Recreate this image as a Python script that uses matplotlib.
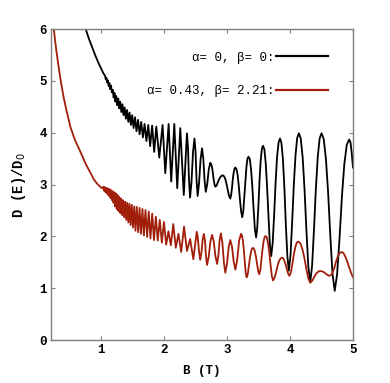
import matplotlib
matplotlib.use('Agg')
import matplotlib.pyplot as plt

# ---- alpha = 0, beta = 0 (black) ----
# smooth part at low field
b_black_low = [0.70, 0.75, 0.80, 0.85, 0.90, 0.96, 1.00, 1.03]
d_black_low = [6.15, 6.00, 5.82, 5.66, 5.50, 5.33, 5.23, 5.15]
# dense oscillations, peak / trough pairs
b_black_mid = [1.058, 1.069, 1.080, 1.092, 1.103, 1.115, 1.128, 1.140, 1.153, 1.166,
               1.180, 1.194, 1.208, 1.222, 1.237, 1.252, 1.268, 1.284, 1.300, 1.317,
               1.334, 1.352, 1.370, 1.389, 1.408, 1.428, 1.448, 1.469, 1.490, 1.512,
               1.535, 1.558, 1.583, 1.607, 1.633, 1.660, 1.687, 1.716, 1.745, 1.775,
               1.807, 1.839, 1.873, 1.920, 1.973, 2.016, 2.069, 2.110, 2.159, 2.206,
               2.254, 2.310, 2.360]
d_black_mid = [5.10, 5.03, 5.06, 4.97, 5.01, 4.90, 4.96, 4.84, 4.91, 4.78,
               4.83, 4.68, 4.77, 4.60, 4.71, 4.53, 4.66, 4.47, 4.60, 4.40,
               4.55, 4.34, 4.49, 4.27, 4.44, 4.21, 4.39, 4.15, 4.34, 4.09,
               4.30, 4.03, 4.25, 3.97, 4.21, 3.91, 4.17, 3.84, 4.15, 3.74,
               4.14, 3.63, 4.12, 3.52, 4.15, 3.22, 4.17, 3.06, 4.17, 2.93,
               4.09, 2.80, 3.99]
# resolved oscillations at high field
b_black_high = [2.377, 2.393, 2.410, 2.433, 2.457, 2.480, 2.497, 2.513, 2.530, 2.553,
                2.577, 2.600, 2.620, 2.640, 2.660, 2.683, 2.707, 2.730, 2.743, 2.757,
                2.770, 2.783, 2.797, 2.810, 2.830, 2.850, 2.870, 2.890, 2.910, 2.930,
                2.950, 2.970, 2.990, 3.010, 3.030, 3.050, 3.063, 3.077, 3.090, 3.103,
                3.117, 3.130, 3.148, 3.167, 3.185, 3.203, 3.222, 3.240, 3.257, 3.273,
                3.290, 3.307, 3.323, 3.340, 3.360, 3.380, 3.400, 3.420, 3.440, 3.460,
                3.478, 3.497, 3.515, 3.533, 3.552, 3.570, 3.592, 3.613, 3.635, 3.657,
                3.678, 3.700, 3.723, 3.747, 3.770, 3.793, 3.817, 3.840, 3.863, 3.887,
                3.910, 3.933, 3.957, 3.980, 4.007, 4.033, 4.060, 4.087, 4.113, 4.140,
                4.170, 4.200, 4.230, 4.260, 4.290, 4.320, 4.350, 4.380, 4.410, 4.440,
                4.470, 4.500, 4.535, 4.570, 4.605, 4.640, 4.675, 4.710, 4.748, 4.787,
                4.825, 4.863, 4.902, 4.940, 4.960, 4.980, 5.000]
d_black_high = [3.71, 3.09, 2.75, 3.06, 3.63, 3.89, 3.64, 3.09, 2.78, 3.03,
                3.49, 3.70, 3.51, 3.09, 2.86, 3.01, 3.29, 3.42, 3.40, 3.35,
                3.25, 3.12, 3.01, 2.96, 2.98, 3.04, 3.10, 3.14, 3.17, 3.18,
                3.16, 3.11, 3.01, 2.89, 2.78, 2.73, 2.80, 2.94, 3.11, 3.23,
                3.31, 3.33, 3.30, 3.18, 2.97, 2.71, 2.48, 2.37, 2.50, 2.78,
                3.10, 3.35, 3.50, 3.54, 3.49, 3.29, 2.96, 2.53, 2.15, 1.98,
                2.17, 2.60, 3.09, 3.47, 3.69, 3.75, 3.68, 3.41, 2.95, 2.37,
                1.85, 1.62, 1.87, 2.42, 3.04, 3.53, 3.81, 3.89, 3.80, 3.48,
                2.93, 2.23, 1.62, 1.34, 1.63, 2.27, 3.00, 3.57, 3.90, 3.99,
                3.89, 3.53, 2.91, 2.12, 1.43, 1.11, 1.43, 2.12, 2.91, 3.53,
                3.89, 3.99, 3.88, 3.50, 2.85, 2.01, 1.28, 0.95, 1.27, 1.97,
                2.78, 3.40, 3.77, 3.87, 3.82, 3.62, 3.33]

# ---- alpha = 0.43, beta = 2.21 (red) ----
b_red_low = [0.22, 0.243, 0.28, 0.32, 0.35, 0.40, 0.45, 0.51, 0.58, 0.667,
             0.75, 0.825, 0.88, 0.93, 0.98, 1.01]
d_red_low = [6.22, 6.00, 5.62, 5.27, 5.03, 4.68, 4.40, 4.10, 3.86, 3.63,
             3.40, 3.23, 3.10, 3.02, 2.96, 2.93]
b_red_mid = [1.033, 1.042, 1.051, 1.061, 1.071, 1.081, 1.091, 1.101, 1.112, 1.123,
             1.134, 1.145, 1.157, 1.168, 1.180, 1.192, 1.205, 1.217, 1.230, 1.244,
             1.257, 1.271, 1.285, 1.300, 1.314, 1.329, 1.345, 1.361, 1.377, 1.394,
             1.411, 1.428, 1.446, 1.464, 1.483, 1.502, 1.522, 1.542, 1.563, 1.585,
             1.607, 1.629, 1.653, 1.676, 1.701, 1.727, 1.753, 1.780, 1.808, 1.836,
             1.866, 1.896, 1.928, 1.961, 1.995, 2.030, 2.066, 2.104, 2.143, 2.183,
             2.225, 2.269, 2.314, 2.361, 2.411, 2.462, 2.516]
d_red_mid = [2.96, 2.88, 2.95, 2.86, 2.94, 2.84, 2.93, 2.81, 2.92, 2.78,
             2.91, 2.74, 2.89, 2.70, 2.87, 2.65, 2.85, 2.58, 2.83, 2.53,
             2.80, 2.49, 2.76, 2.45, 2.73, 2.41, 2.70, 2.37, 2.67, 2.32,
             2.65, 2.27, 2.63, 2.22, 2.61, 2.17, 2.58, 2.11, 2.57, 2.08,
             2.55, 2.05, 2.53, 2.02, 2.51, 1.99, 2.48, 1.96, 2.44, 1.93,
             2.38, 1.92, 2.32, 1.88, 2.28, 1.84, 2.10, 1.83, 2.24, 1.78,
             2.05, 1.70, 2.19, 1.72, 1.95, 1.56, 2.09]
b_red_high = [2.534, 2.553, 2.571, 2.591, 2.610, 2.630, 2.647, 2.663, 2.680, 2.707,
              2.733, 2.760, 2.787, 2.813, 2.840, 2.860, 2.880, 2.900, 2.923, 2.947,
              2.970, 2.997, 3.023, 3.050, 3.077, 3.103, 3.130, 3.160, 3.190, 3.220,
              3.235, 3.250, 3.265, 3.280, 3.295, 3.310, 3.327, 3.343, 3.360, 3.377,
              3.393, 3.410, 3.427, 3.443, 3.460, 3.477, 3.493, 3.510, 3.527, 3.543,
              3.560, 3.577, 3.593, 3.610, 3.630, 3.650, 3.670, 3.690, 3.710, 3.730,
              3.753, 3.777, 3.800, 3.823, 3.847, 3.870, 3.890, 3.910, 3.930, 3.950,
              3.970, 3.990, 4.013, 4.037, 4.060, 4.083, 4.107, 4.130, 4.162, 4.193,
              4.225, 4.257, 4.288, 4.320, 4.350, 4.380, 4.420, 4.460, 4.500, 4.540,
              4.580, 4.620, 4.660, 4.700, 4.740, 4.780, 4.820, 4.850, 4.890, 4.930,
              4.970, 5.000]
d_red_high = [1.97, 1.70, 1.55, 1.69, 1.94, 2.05, 1.92, 1.62, 1.45, 1.61,
              1.90, 2.03, 1.90, 1.62, 1.47, 1.63, 1.93, 2.06, 1.89, 1.51,
              1.30, 1.47, 1.79, 1.93, 1.80, 1.52, 1.36, 1.55, 1.92, 2.05,
              2.02, 1.92, 1.74, 1.50, 1.30, 1.21, 1.27, 1.41, 1.57, 1.69,
              1.76, 1.78, 1.76, 1.70, 1.59, 1.45, 1.33, 1.27, 1.35, 1.53,
              1.73, 1.89, 1.98, 2.01, 1.98, 1.87, 1.69, 1.45, 1.24, 1.15,
              1.20, 1.30, 1.43, 1.52, 1.57, 1.59, 1.58, 1.53, 1.46, 1.36,
              1.28, 1.24, 1.31, 1.47, 1.65, 1.79, 1.88, 1.90, 1.87, 1.77,
              1.60, 1.39, 1.20, 1.11, 1.14, 1.21, 1.29, 1.33, 1.33, 1.31,
              1.27, 1.24, 1.26, 1.38, 1.55, 1.67, 1.70, 1.68, 1.58, 1.44,
              1.30, 1.21]

labels = ['\u03b1= 0, \u03b2= 0:', '\u03b1= 0.43, \u03b2= 2.21:']
x_ticks = [1, 2, 3, 4, 5]
y_ticks = [0, 1, 2, 3, 4, 5, 6]

mono = 'Liberation Mono'
grey = '#7f7f7f'

b_black = b_black_low + b_black_mid + b_black_high
d_black = d_black_low + d_black_mid + d_black_high
b_red = b_red_low + b_red_mid + b_red_high
d_red = d_red_low + d_red_mid + d_red_high

fig = plt.figure(figsize=(3.9, 3.83), dpi=100)
ax = fig.add_axes([0.131, 0.112, 0.774, 0.812])

ax.plot(b_black, d_black, color='black', lw=1.3, label=labels[0])
ax.plot(b_red, d_red, color='#a01e0a', lw=1.3, label=labels[1])

ax.set_xlim(0.2, 5)
ax.set_ylim(0, 6)
ax.set_xticks(x_ticks)
ax.set_yticks(y_ticks)
ax.set_xticklabels([str(t) for t in x_ticks], family=mono, weight='bold', fontsize=9)
ax.set_yticklabels([str(t) for t in y_ticks], family=mono, weight='bold', fontsize=9)
ax.tick_params(direction='in', length=3, width=0.8, color=grey, top=True, right=True, pad=3)
for s in ax.spines.values():
    s.set_color(grey)
    s.set_linewidth(1.0)

ax.set_xlabel('B (T)', family=mono, weight='bold', fontsize=9, labelpad=6)
ax.set_ylabel('D (E)/D$_{0}$', family=mono, weight='bold', fontsize=10, labelpad=8)

leg = ax.legend(loc='upper right', bbox_to_anchor=(0.939, 0.947), frameon=False,
                markerfirst=False, handlelength=4.2, handletextpad=0.1,
                labelspacing=1.7, borderpad=0, prop={'family': mono, 'size': 9})
for line in leg.get_lines():
    line.set_linewidth(1.6)

fig.savefig('out.png', dpi=100)
